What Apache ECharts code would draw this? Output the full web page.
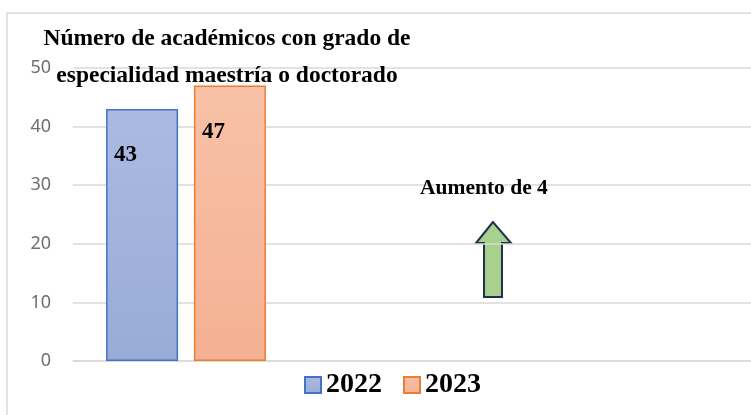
<!DOCTYPE html>
<html>
<head>
<meta charset="utf-8">
<script src="https://cdn.jsdelivr.net/npm/echarts@6/dist/echarts.min.js"></script>
<style>
  html, body { margin: 0; padding: 0; background: #ffffff; }
  #chart { width: 751px; height: 415px; }
</style>
</head>
<body>
<div id="chart"></div>
<script>
// ---- Data ----
const titleText = 'Número de académicos con grado de\nespecialidad maestría o doctorado';
const categories = ['Académicos', ' ', '  '];
const seriesNames = ['2022', '2023'];
const values2022 = [43, null, null];
const values2023 = [47, null, null];
const yTicks = { min: 0, max: 50, interval: 10 };
const annotationText = 'Aumento de 4';

const serif = '"Liberation Serif", "Times New Roman", serif';

const chart = echarts.init(document.getElementById('chart'), null, { renderer: 'canvas' });

function grad(top, bottom) {
  return new echarts.graphic.LinearGradient(0, 0, 0, 1, [
    { offset: 0, color: top },
    { offset: 1, color: bottom }
  ]);
}

const labelCfg = {
  show: true,
  position: [8, 46],
  align: 'left',
  verticalAlign: 'middle',
  fontFamily: serif,
  fontWeight: 'bold',
  fontSize: 23,
  color: '#000000',
  formatter: p => p.value
};

chart.setOption({
  animation: false,
  backgroundColor: '#ffffff',
  title: {
    text: titleText,
    left: 222,
    top: 15,
    textAlign: 'center',
    textStyle: {
      fontFamily: serif,
      fontWeight: 'bold',
      fontSize: 23.5,
      lineHeight: 37,
      color: '#000000'
    }
  },
  grid: { left: 73, right: 0, top: 68, bottom: 54, containLabel: false },
  legend: {
    data: seriesNames,
    left: 299,
    top: 366,
    icon: 'rect',
    itemWidth: 16,
    itemHeight: 16,
    itemGap: 21,
    textStyle: {
      fontFamily: serif,
      fontWeight: 'bold',
      fontSize: 28,
      color: '#000000'
    }
  },
  xAxis: {
    type: 'category',
    data: categories,
    axisLine: { show: true, lineStyle: { color: '#d9d9d9', width: 1.5 } },
    axisTick: { show: false },
    axisLabel: { show: false },
    splitLine: { show: false }
  },
  yAxis: {
    type: 'value',
    min: yTicks.min,
    max: yTicks.max,
    interval: yTicks.interval,
    axisLine: { show: false },
    axisTick: { show: false },
    axisLabel: {
      margin: 22,
      fontFamily: '"Noto Sans", "Open Sans", sans-serif',
      fontSize: 18,
      color: '#6e6e6e'
    },
    splitLine: { lineStyle: { color: '#d9d9d9', width: 1.5 } }
  },
  series: [
    {
      name: seriesNames[0],
      type: 'bar',
      data: values2022,
      barWidth: 72,
      barGap: '22%',
      itemStyle: {
        color: grad('#abbae1', '#98acd7'),
        borderColor: '#4472c4',
        borderWidth: 1.5
      },
      label: labelCfg
    },
    {
      name: seriesNames[1],
      type: 'bar',
      data: values2023,
      barWidth: 72,
      barGap: '22%',
      itemStyle: {
        color: grad('#f8c1a7', '#f4b193'),
        borderColor: '#ed7d31',
        borderWidth: 1.5
      },
      label: labelCfg
    }
  ],
  graphic: [
    {
      type: 'rect',
      z: -1,
      silent: true,
      shape: { x: 7, y: 13, width: 800, height: 450 },
      style: { fill: 'none', stroke: '#d9d9d9', lineWidth: 1.5 }
    },
    {
      type: 'text',
      x: 420,
      y: 177,
      z: 10,
      style: {
        text: annotationText,
        font: 'bold 21.5px ' + serif,
        fill: '#000000',
        stroke: null,
        lineWidth: 0
      }
    },
    {
      type: 'polygon',
      shape: {
        points: [[493, 222], [476, 243], [484, 243], [484, 297], [502, 297], [502, 243], [511, 243]]
      },
      style: { fill: '#a9d18e', stroke: '#1f3050', lineWidth: 2 }
    }
  ]
});
</script>
</body>
</html>
